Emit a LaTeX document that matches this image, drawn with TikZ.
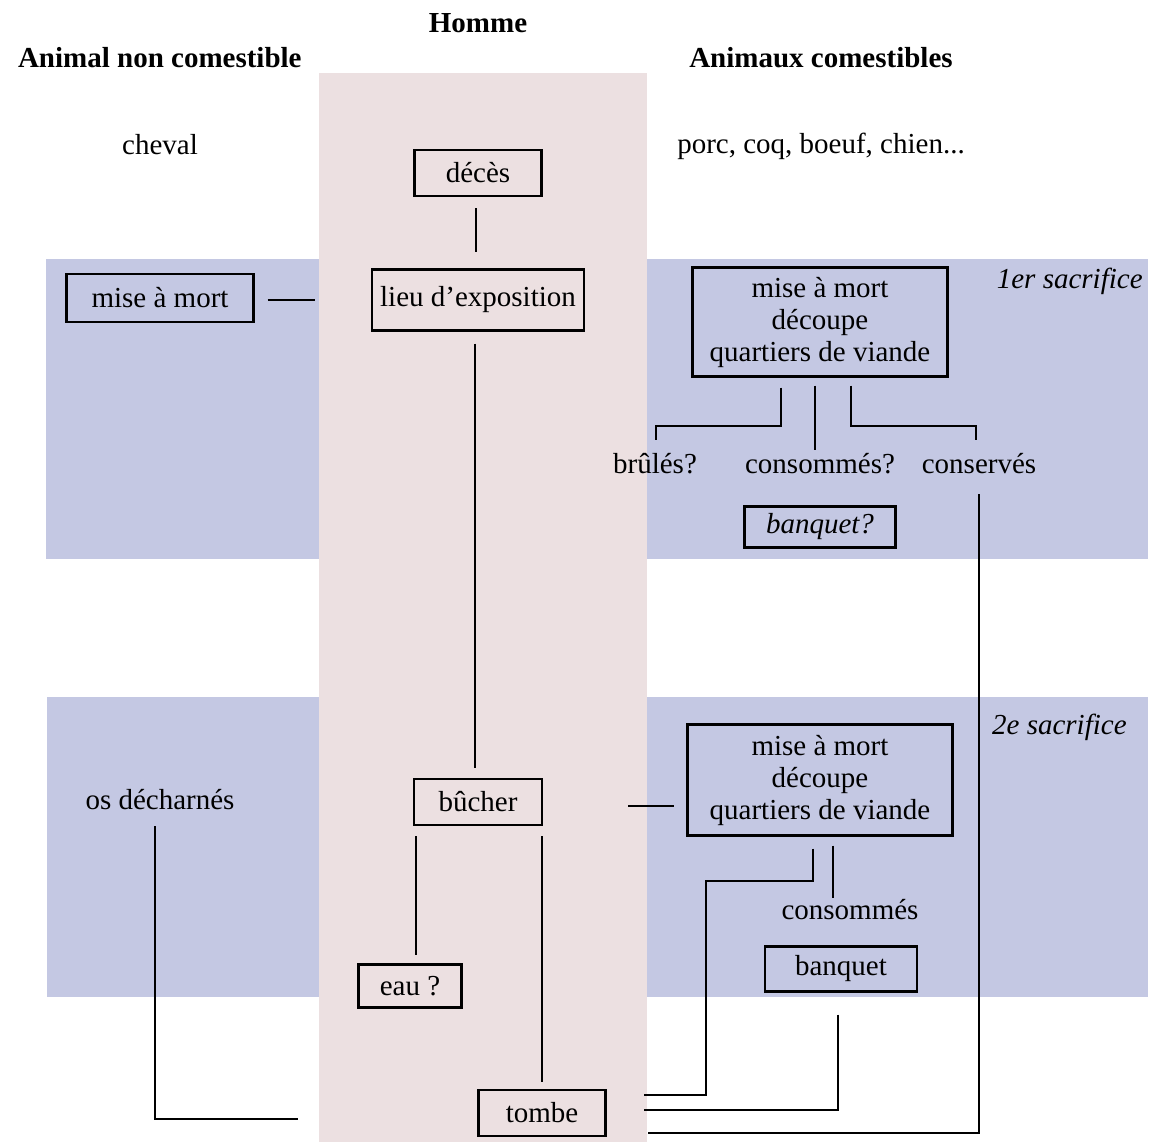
\documentclass[tikz,border=0pt]{standalone}
\usepackage{fontspec}
\setmainfont{Liberation Serif}
\usetikzlibrary{calc}
\definecolor{bandblue}{RGB}{196,200,227}
\definecolor{colpink}{RGB}{236,224,225}
\newcommand{\dfs}{\fontsize{14.5}{16}\selectfont}
\begin{document}
\begin{tikzpicture}[x=0.5pt,y=-0.5pt,
  every node/.style={font=\dfs, inner sep=0pt},
  box/.style={draw, line width=1.2pt, align=center},
  conn/.style={line width=1pt},
  lbl/.style={align=center},
  head/.style={font=\dfs\bfseries},
  note/.style={font=\dfs\itshape}]
\useasboundingbox (0,0) rectangle (1160,1142);
% bands
\fill[bandblue] (46,259) rectangle (1148,559);
\fill[bandblue] (47,697) rectangle (1148,997);
\fill[colpink] (319,73) rectangle (647,1142);
% headings
\node[head] (homme) at (478,23) {Homme};
\node[head, anchor=east] (nonc) at (302,58) {Animal non comestible};
\node[head] (comest) at (821,58) {Animaux comestibles};
\node[lbl] (cheval) at (160,145) {cheval};
\node[lbl] (porc) at (821,146) {porc, coq, boeuf, chien...};
\node[note, anchor=east] (sac1) at (1143,281) {1er sacrifice};
\node[note, anchor=east] (sac2) at (1127,727) {2e sacrifice};
% boxes
\node[box, minimum width=63.5pt, minimum height=23pt] (deces) at (478,173) {décès};
\node[box, minimum width=106pt, minimum height=30.5pt] (lieu) at (478,300) {lieu d’exposition};
\node[box, minimum width=93.5pt, minimum height=24pt] (misel) at (160,298) {mise à mort};
\node[box, minimum width=127.5pt, minimum height=54.5pt] (s1) at (820,322) {mise à mort\\découpe\\quartiers de viande};
\node[lbl] (brules) at (655,464) {brûlés?};
\node[lbl] (conso1) at (820,464) {consommés?};
\node[lbl] (conserves) at (979,464) {conservés};
\node[box, minimum width=75.5pt, minimum height=20.5pt, font=\dfs\itshape] (banq1) at (820,527) {banquet?};
\node[box, minimum width=64pt, minimum height=23pt] (bucher) at (478,802) {bûcher};
\node[box, minimum width=132.5pt, minimum height=55.5pt] (s2) at (820,780) {mise à mort\\découpe\\quartiers de viande};
\node[lbl] (conso2) at (850,910) {consommés};
\node[box, minimum width=76pt, minimum height=22.5pt] (banq2) at (841,969) {banquet};
\node[lbl] (os) at (160,800) {os décharnés};
\node[box, minimum width=51.5pt, minimum height=21.5pt] (eau) at (410,986) {eau ?};
\node[box, minimum width=63.5pt, minimum height=23pt] (tombe) at (542,1113) {tombe};
% connectors
\draw[conn, shorten <=5.5pt, shorten >=8pt] ($(deces.south)+(-2,0)$) -- ($(lieu.north)+(-2,0)$);
\draw[conn, shorten <=6.5pt, shorten >=28pt] ($(misel.east)+(0,2)$) -- ($(lieu.west |- misel.east)+(0,2)$);
\draw[conn, shorten <=6pt, shorten >=5pt] ($(lieu.south)+(-3,0)$) -- ($(bucher.north)+(-3,0)$);
\draw[conn, shorten <=42.5pt, shorten >=6pt] ($(bucher.east)+(0,4)$) -- ($(s2.west |- bucher.east)+(0,4)$);
% first sacrifice branches
\draw[conn] ($(s1.south)+(-39,10)$) -- ++(0,38) -| ($(brules.center)+(1,-24)$);
\draw[conn] ($(s1.south)+(-5,8)$) -- ($(conso1.center)+(-5,-14)$);
\draw[conn] ($(s1.south)+(31,8)$) -- ++(0,40) -| ($(conserves.center)+(-3,-24)$);
\draw[conn] ($(conserves.center)+(0,30)$) |- ($(tombe.east)+(41,20)$);
% second sacrifice branches
\draw[conn] ($(s2.south)+(-7,12)$) -- ++(0,32) -- ++(-107,0) |- ($(tombe.east)+(37,-18)$);
\draw[conn] ($(s2.south)+(13,9)$) -- ($(conso2.center)+(-17,-12)$);
\draw[conn] ($(banq2.south)+(-3,22)$) |- ($(tombe.east)+(37,-3)$);
% left and centre
\draw[conn] ($(os.center)+(-5,26)$) |- ($(tombe.west)+(-179,6)$);
\draw[conn] ($(bucher.south)+(-62,10)$) -- ($(eau.north)+(6,-8)$);
\draw[conn] ($(bucher.south)+(64,10)$) -- ($(tombe.north)+(0,-7)$);
\end{tikzpicture}
\end{document}
